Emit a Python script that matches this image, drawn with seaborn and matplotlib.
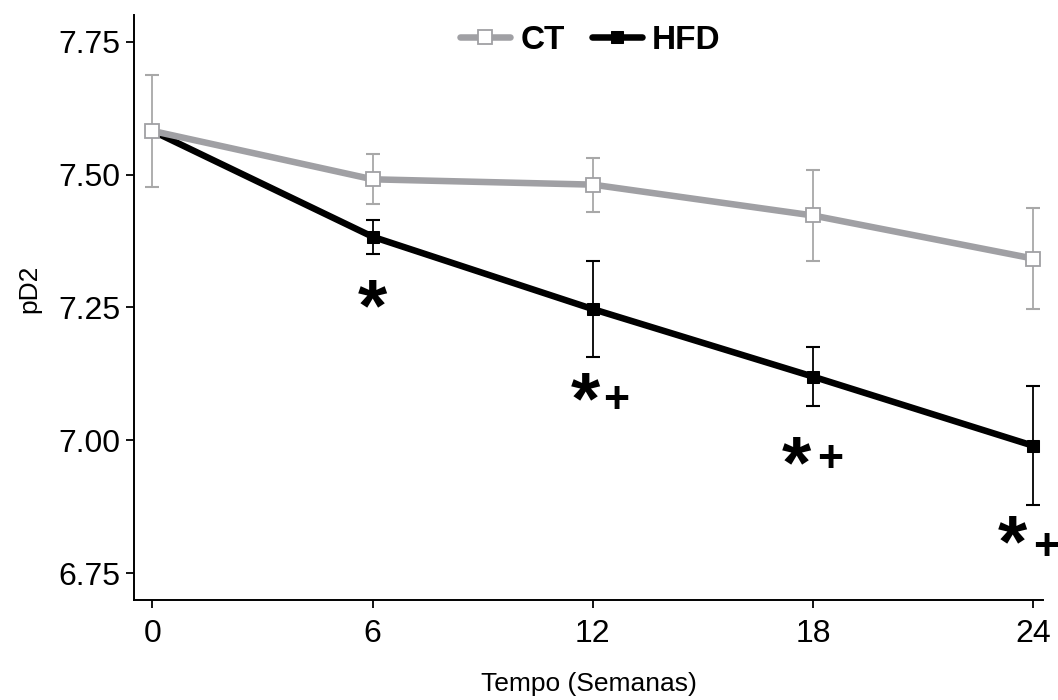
import matplotlib
matplotlib.use("Agg")
import matplotlib.pyplot as plt
import matplotlib.transforms as mtransforms
import seaborn as sns
import pandas as pd
import numpy as np

# ---- data ----
weeks = [0, 6, 12, 18, 24]
ct_mean = [7.582, 7.491, 7.481, 7.423, 7.342]
ct_err = [0.105, 0.047, 0.051, 0.086, 0.095]
hfd_mean = [7.582, 7.383, 7.247, 7.120, 6.990]
hfd_err = [0.0, 0.032, 0.090, 0.055, 0.112]
xticks = [0, 6, 12, 18, 24]
yticks = [6.75, 7.00, 7.25, 7.50, 7.75]
ytick_labels = ["6.75", "7.00", "7.25", "7.50", "7.75"]
# significance marks (visual centres, data units)
star_x = [6.0, 11.8, 17.55, 23.43]
star_y = [7.276, 7.101, 6.981, 6.833]
plus_x = [12.64, 18.47, 24.36]
plus_y = [7.081, 6.970, 6.806]

sns.set_theme(style="ticks")
plt.rcParams['font.family'] = ['Liberation Sans', 'DejaVu Sans']
plt.rcParams['text.color'] = 'black'
plt.rcParams['axes.labelcolor'] = 'black'
plt.rcParams['xtick.color'] = 'black'
plt.rcParams['ytick.color'] = 'black'

fig = plt.figure(figsize=(10.58, 7.0), dpi=100)
ax = fig.add_axes([0.1267, 0.1429, 0.8591, 0.8357])

ct_col = "#a0a0a4"
ct_err_col = "#a8a8a8"

df_ct = pd.DataFrame({"week": weeks, "val": ct_mean})
df_hfd = pd.DataFrame({"week": weeks, "val": hfd_mean})

# HFD (below)
ax.errorbar(weeks[1:], hfd_mean[1:], yerr=hfd_err[1:], fmt="none", ecolor="black",
            elinewidth=1.3, capsize=5, capthick=1.5, zorder=2)
sns.lineplot(data=df_hfd, x="week", y="val", ax=ax, color="black", lw=4.7,
             marker="s", markersize=9, markerfacecolor="black", markeredgecolor="black",
             label="HFD", zorder=3)
# CT (above)
ax.errorbar(weeks, ct_mean, yerr=ct_err, fmt="none", ecolor=ct_err_col,
            elinewidth=1.3, capsize=5, capthick=1.5, zorder=4)
sns.lineplot(data=df_ct, x="week", y="val", ax=ax, color=ct_col, lw=4.7,
             marker="s", markersize=10, markerfacecolor="white", markeredgecolor=ct_col,
             markeredgewidth=1.3, label="CT", zorder=5)

star_fs = 54
plus_fs = 32
star_tr = mtransforms.offset_copy(ax.transData, fig=fig, y=-0.49 * star_fs, units="points")
plus_tr = mtransforms.offset_copy(ax.transData, fig=fig, y=-0.36 * plus_fs, units="points")
for x, y in zip(star_x, star_y):
    ax.text(x, y, "*", ha="center", va="baseline", fontsize=star_fs, fontweight="bold",
            transform=star_tr, clip_on=False)
for x, y in zip(plus_x, plus_y):
    ax.text(x, y, "+", ha="center", va="baseline", fontsize=plus_fs, fontweight="bold",
            transform=plus_tr, clip_on=False)

ax.set_xlim(-0.5, 24.27)
ax.set_ylim(6.70, 7.80)
ax.set_xticks(xticks)
ax.set_xticklabels([str(t) for t in xticks])
ax.set_yticks(yticks)
ax.set_yticklabels(ytick_labels)
ax.tick_params(axis="both", labelsize=23, width=1.3, length=6, color="black")
ax.tick_params(axis="x", pad=8)
ax.tick_params(axis="y", pad=4)
for s in ["left", "bottom"]:
    ax.spines[s].set_linewidth(1.4)
    ax.spines[s].set_color("black")
sns.despine(ax=ax)

ax.set_xlabel("Tempo (Semanas)", fontsize=19, labelpad=16)
ax.set_ylabel("pD2", fontsize=19)
ax.yaxis.set_label_coords(-0.102, 0.532)

handles, labels = ax.get_legend_handles_labels()
order = [labels.index("CT"), labels.index("HFD")]
leg = ax.legend([handles[i] for i in order], [labels[i] for i in order],
                loc="upper center", bbox_to_anchor=(0.502, 1.035), ncol=2, frameon=False,
                prop={"size": 24, "weight": "bold"}, handlelength=1.5,
                handletextpad=0.3, columnspacing=0.8)

fig.savefig("out.png", dpi=100)
